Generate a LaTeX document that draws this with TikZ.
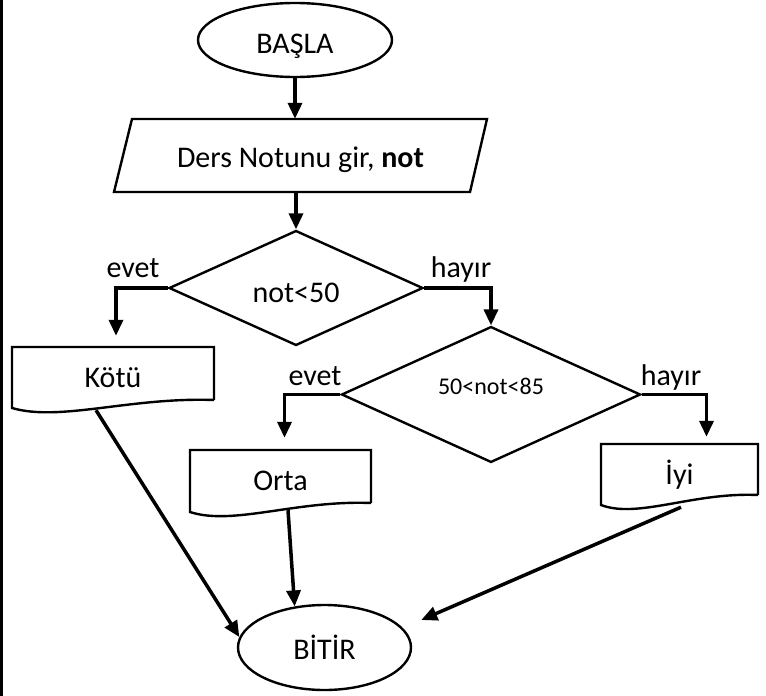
\documentclass[tikz,border=0pt]{standalone}
\usepackage{fontspec}
\setmainfont{Carlito}
\usetikzlibrary{shapes.geometric,arrows.meta,calc}
\newcommand\fbig{\fontsize{30}{36}\selectfont}
\newcommand\fsmall{\fontsize{24}{29}\selectfont}
\begin{document}
\begin{tikzpicture}[x=1pt,y=-1pt,
  shp/.style={draw=black,line width=2.4pt},
  box/.style={inner sep=0pt,font=\fbig},
  conn/.style={draw=black,line width=3.5pt,-{Triangle[width=14pt,length=16pt]}},
  lbl/.style={anchor=base,inner sep=0pt,font=\fbig}]
\useasboundingbox (0,0) rectangle (766,696);
\draw[line width=3pt] (1.5,0) -- (1.5,696);

% start
\node[box,shp,ellipse,minimum width=194pt,minimum height=74pt,text height=29pt,text depth=2pt] (start) at (295,40) {BAŞLA};
% input parallelogram
\node[box,minimum width=355pt,minimum height=73pt,text height=26pt,text depth=2pt] (inp) at (300.5,155.5) {Ders Notunu gir, \textbf{not}};
\draw[shp] (132,119) -- (487,119) -- (470,192) -- (114,192) -- cycle;
% decisions
\node[box,shp,diamond,minimum width=254pt,minimum height=102pt,text height=28pt,text depth=0pt] (d1) at (296,288) {not<50};
\node[box,shp,diamond,minimum width=299pt,minimum height=135pt,font=\fsmall,text height=15pt,text depth=15pt] (d2) at (491,394.5) {50<not<85};
% documents
\node[box,minimum width=202pt,minimum height=61pt] (kotu) at (113,377.5) {Kötü};
\draw[shp] (214,400) -- (214,347) -- (12,347) -- (12,408) .. controls (60,422) and (130,397) .. (214,400);
\node[box,minimum width=181pt,minimum height=62pt] (orta) at (280.5,481) {Orta};
\draw[shp] (371,503) -- (371,450) -- (190,450) -- (190,512) .. controls (233,526) and (296,500) .. (371,503);
\node[box,minimum width=157pt,minimum height=61pt] (iyi) at (679.5,474.5) {İyi};
\draw[shp] (758,495) -- (758,444) -- (601,444) -- (601,505) .. controls (638,519) and (693,492) .. (758,495);
% end
\node[box,shp,ellipse,minimum width=173pt,minimum height=85pt] (bitir) at (324.5,647.5) {BİTİR};

% connectors
\draw[conn] (start.south) -- (start.south |- inp.north);
\draw[conn] (d1.north |- inp.south) -- (d1.north);
\draw[conn,shorten >=11pt] (d1.west) -| ([xshift=3pt]kotu.north);
\draw[conn] (d1.east) -| (d2.north);
\draw[conn,shorten >=12pt] (d2.west) -| ([xshift=4pt]orta.north);
\draw[conn,shorten >=7pt] (d2.east) -| ([xshift=27pt]iyi.north);

\coordinate (kotuw) at ([xshift=-17pt,yshift=-2pt]kotu.south);
\coordinate (ortaw) at ([xshift=7.5pt,yshift=2pt]orta.south);
\coordinate (iyiw) at ([xshift=1.5pt,yshift=-2pt]iyi.south);
\draw[conn] (kotuw) -- (bitir.173);
\draw[conn] (ortaw) -- (bitir.126);
\draw[conn,shorten >=20pt] (iyiw) -- (bitir.14);

% labels
\node[lbl] (e1) at (133,277) {evet};
\node[lbl] (h1) at (461,277) {hayır};
\node[lbl] (e2) at (315,385) {evet};
\node[lbl] (h2) at (671,385) {hayır};
\end{tikzpicture}
\end{document}
